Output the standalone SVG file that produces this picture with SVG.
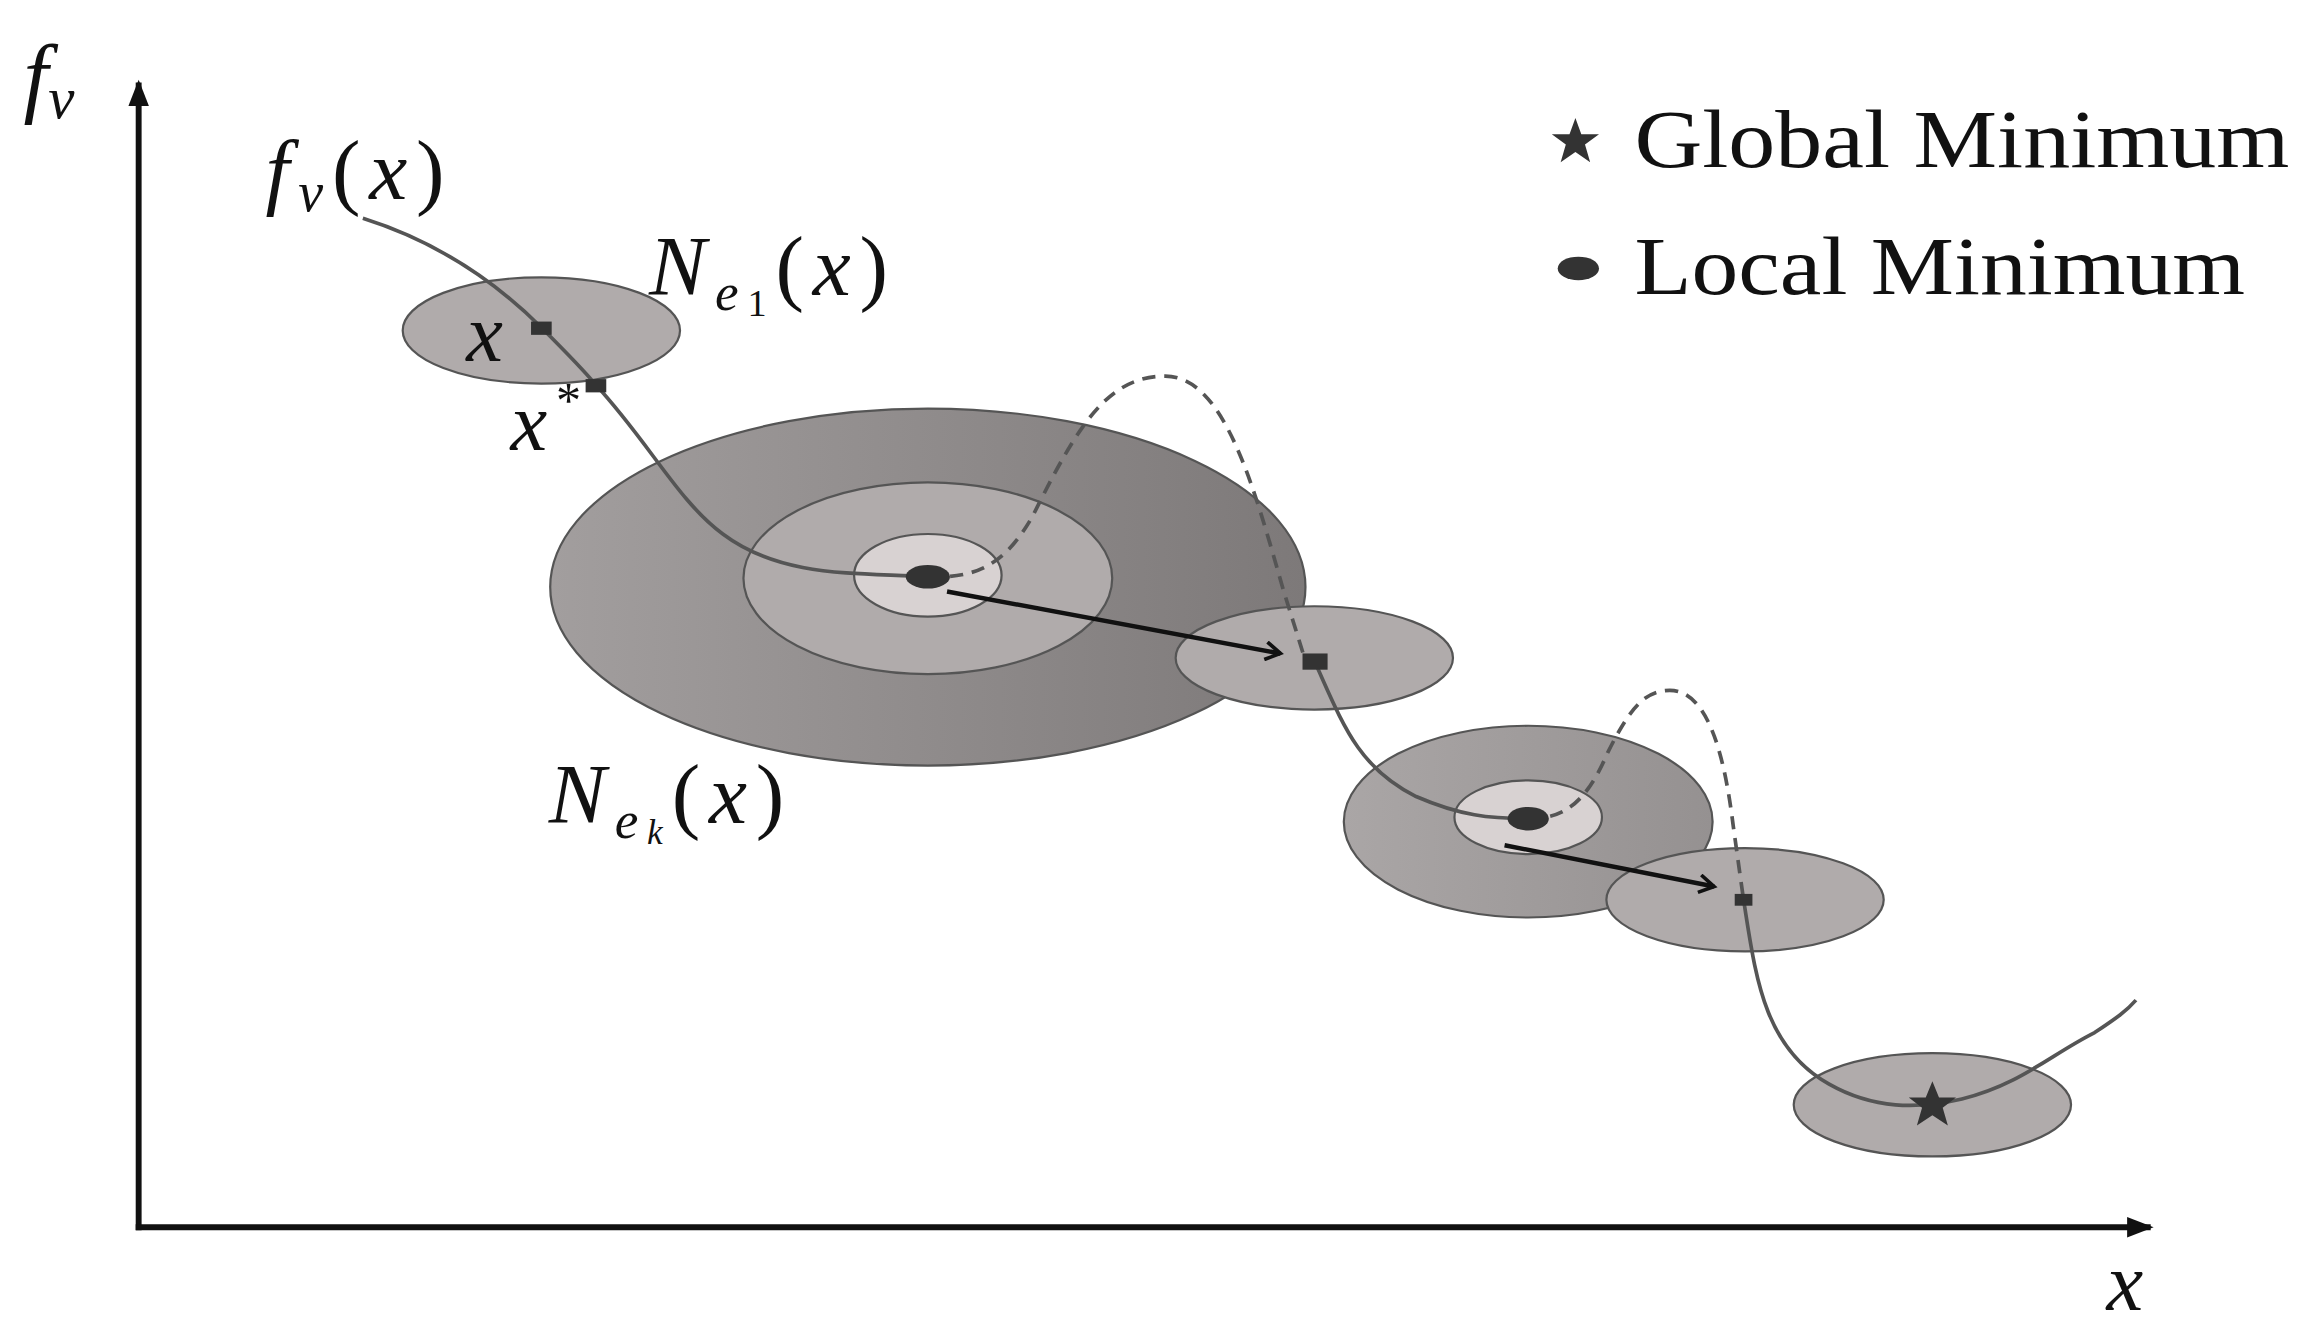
<svg xmlns="http://www.w3.org/2000/svg" width="2313" height="1341" viewBox="0 0 2313 1341">
<style>
.t{font-family:'Liberation Serif','Times New Roman','DejaVu Serif',serif;fill:#111}
.i{font-style:italic}
.e{fill:#b0abab;stroke:#555;stroke-width:1.5}
.c{fill:none;stroke:#555;stroke-width:2.5}
.d{fill:none;stroke:#555;stroke-width:2.5;stroke-dasharray:9 6}
.a{stroke:#111;stroke-width:3;fill:none;marker-end:url(#ah)}
</style>
<defs>
<marker id="ah" markerWidth="14" markerHeight="14" refX="11" refY="7" orient="auto" markerUnits="userSpaceOnUse"><path d="M1,1 L11,7 L1,13" fill="none" stroke="#111" stroke-width="2.5"/></marker>
<marker id="ax" markerWidth="20" markerHeight="20" refX="16" refY="10" orient="auto" markerUnits="userSpaceOnUse"><path d="M0,3 L18,10 L0,17 Z" fill="#111"/></marker>
<linearGradient id="g" x1="0" y1="0" x2="1" y2="0"><stop offset="0" stop-color="#a29e9e"/><stop offset="1" stop-color="#7d7979"/></linearGradient>
<linearGradient id="g2" x1="0" y1="0" x2="1" y2="0"><stop offset="0" stop-color="#aaa6a6"/><stop offset="1" stop-color="#959191"/></linearGradient>
</defs>
<rect width="2313" height="1341" fill="#fff"/>
<g transform="scale(1.4751)">
<g id="axes">
<line x1="94" y1="834" x2="94" y2="56" stroke="#111" stroke-width="4" marker-end="url(#ax)"/>
<line x1="92" y1="832" x2="1458" y2="832" stroke="#111" stroke-width="4" marker-end="url(#ax)"/>
<text class="t i" x="16" y="72" font-size="60" font-family="Liberation Serif, serif">f<tspan font-size="40" dy="8">v</tspan></text>
<text class="t i" x="1428" y="888" font-size="56" font-family="Liberation Serif, serif">x</text>
</g>
<g id="n1"><ellipse class="e" cx="367" cy="224" rx="94" ry="36"/></g>
<g id="big"><ellipse cx="629" cy="398" rx="256" ry="121" fill="url(#g)" stroke="#555" stroke-width="1.5"/>
<ellipse class="e" cx="629" cy="392" rx="125" ry="65" fill="#aaa6a6"/>
<ellipse cx="629" cy="390" rx="50" ry="28" fill="#d8d2d2" stroke="#555" stroke-width="1.5"/></g>
<g id="n2"><ellipse class="e" cx="891" cy="446" rx="94" ry="35"/></g>
<g id="big2"><ellipse cx="1036" cy="557" rx="125" ry="65" fill="url(#g2)" stroke="#555" stroke-width="1.5"/>
<ellipse cx="1036" cy="554" rx="50" ry="25" fill="#d8d2d2" stroke="#555" stroke-width="1.5"/></g>
<g id="n3"><ellipse class="e" cx="1183" cy="610" rx="94" ry="35"/></g>
<g id="n4"><ellipse class="e" cx="1310" cy="749" rx="94" ry="35"/></g>
<g id="connectors">
<path class="c" d="M246,148 C300,165 340,195 367,222 C385,240 395,250 404,261 C440,300 460,340 490,362 C530,392 580,388 629,391"/>
<path class="d" d="M629,391 C660,392 680,385 700,350 C730,290 750,255 790,255 C830,255 850,330 870,400 L885,448"/>
<path class="c" d="M891,448 C910,490 920,520 960,540 C990,553 1010,555 1036,555"/>
<path class="d" d="M1036,555 C1060,555 1075,545 1090,510 C1105,480 1115,468 1132,468 C1160,468 1170,520 1175,560 L1182,610"/>
<path class="c" d="M1182,610 C1190,660 1195,710 1240,735 C1270,752 1300,752 1330,745 C1370,735 1390,715 1420,700 C1435,690 1442,685 1448,678"/>
<line class="a" x1="642" y1="401" x2="868" y2="443"/>
<line class="a" x1="1020" y1="573" x2="1162" y2="601"/>
</g>
<g id="marks" fill="#333">
<rect x="360" y="218" width="14" height="9"/>
<rect x="397" y="257" width="14" height="9"/>
<rect x="883" y="443" width="17" height="11"/>
<rect x="1176" y="606" width="12" height="8"/>
<ellipse cx="629" cy="391" rx="15" ry="8"/>
<ellipse cx="1036" cy="555" rx="14" ry="8"/>
<path d="M1310,733 L1314.5,744 L1326,744 L1317,751 L1320.5,763 L1310,756 L1299.5,763 L1303,751 L1294,744 L1305.5,744 Z"/>
</g>
<g id="labels" font-family="Liberation Serif, serif" letter-spacing="6">
<text class="t i" x="180" y="135" font-size="58">f<tspan font-size="38" dy="8">v</tspan><tspan dy="-8" font-style="normal">(</tspan>x<tspan font-style="normal">)</tspan></text>
<text class="t i" x="440" y="200" font-size="58">N<tspan font-size="36" dy="10">e</tspan><tspan font-size="26" dy="4" font-style="normal">1</tspan><tspan dy="-14" font-style="normal">(</tspan>x<tspan font-style="normal">)</tspan></text>
<text class="t i" x="316" y="245" font-size="56">x</text>
<text class="t i" x="346" y="305" font-size="56">x<tspan font-size="34" dy="-22" font-style="normal">*</tspan></text>
<text class="t i" x="372" y="558" font-size="58">N<tspan font-size="36" dy="10">e</tspan><tspan font-size="24" dy="4">k</tspan><tspan dy="-14" font-style="normal">(</tspan>x<tspan font-style="normal">)</tspan></text>
</g>
<g id="legend" font-family="Liberation Serif, serif">
<path fill="#333" d="M1068,80 L1072,91 L1084,91 L1074.5,98 L1078,110 L1068,103 L1058,110 L1061.5,98 L1052,91 L1064,91 Z"/>
<text class="t" x="1108" y="113" font-size="56" textLength="444" lengthAdjust="spacingAndGlyphs">Global Minimum</text>
<ellipse cx="1070" cy="182" rx="14" ry="8" fill="#333"/>
<text class="t" x="1108" y="199" font-size="56" textLength="414" lengthAdjust="spacingAndGlyphs">Local Minimum</text>
</g>
</g>
</svg>
